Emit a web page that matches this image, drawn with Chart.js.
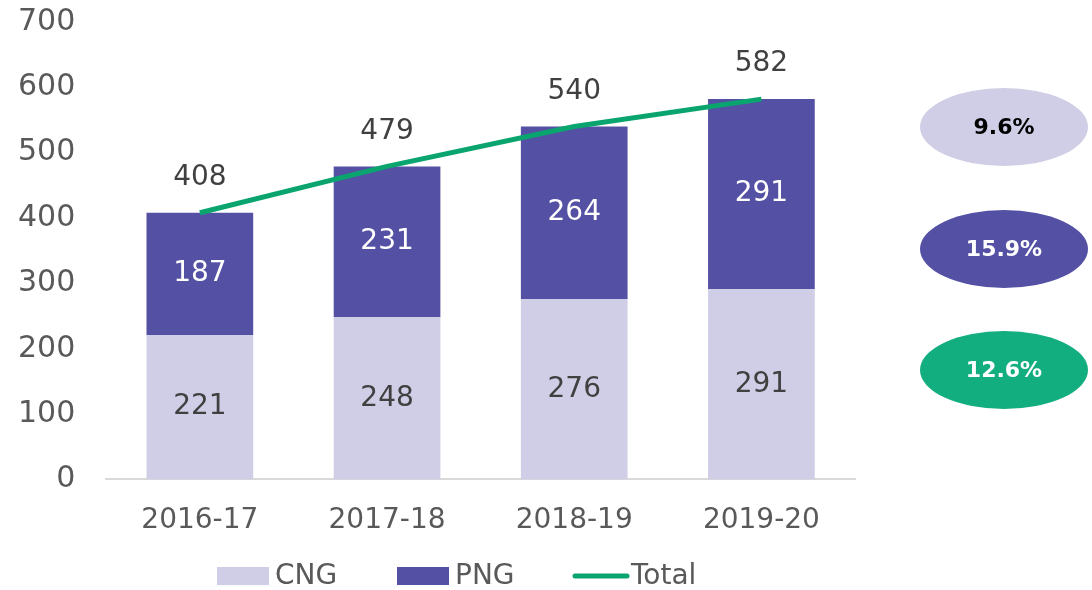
<!DOCTYPE html>
<html>
<head>
<meta charset="utf-8">
<script src="https://cdn.jsdelivr.net/npm/chart.js@4/dist/chart.umd.min.js"></script>
<style>
  html, body { margin: 0; padding: 0; background: #fff; }
  #wrap { width: 1092px; height: 590px; }
</style>
</head>
<body>
<div id="wrap"><canvas id="chart"></canvas></div>
<script>
const years = ['2016-17', '2017-18', '2018-19', '2019-20'];
const cng = [221, 248, 276, 291];
const png = [187, 231, 264, 291];
const total = [408, 479, 540, 582];
const yTicks = [0, 100, 200, 300, 400, 500, 600, 700];

// CAGR bubbles on the right: text, fill, text colour
const cagrText = ['9.6%', '15.9%', '12.6%'];
const cagrFill = ['#d0cee6', '#5450a4', '#13ae7f'];
const cagrInk = ['#000000', '#ffffff', '#ffffff'];

const FONT = '"DejaVu Sans", sans-serif';

// value labels on bars and above the total line
const labelsPlugin = {
    id: 'valueLabels',
    afterDatasetsDraw(chart) {
        const ctx = chart.ctx;
        ctx.save();
        ctx.font = '28px ' + FONT;
        ctx.textAlign = 'center';
        ctx.textBaseline = 'middle';
        chart.data.datasets.forEach((ds, i) => {
            const meta = chart.getDatasetMeta(i);
            meta.data.forEach((el, j) => {
                if (ds.type === 'line') {
                    ctx.fillStyle = '#404040';
                    ctx.fillText(ds.data[j], el.x, el.y - 35);
                } else {
                    ctx.fillStyle = ds.labelColor;
                    ctx.fillText(ds.data[j], el.x, (el.y + el.base) / 2);
                }
            });
        });
        ctx.restore();
    }
};

// ellipses with growth rates + legend row
const extrasPlugin = {
    id: 'extras',
    afterDraw(chart) {
        const ctx = chart.ctx;
        const cx = 1004;
        const ys = [127, 249, 370];
        ctx.save();
        ctx.textAlign = 'center';
        ctx.textBaseline = 'middle';
        ctx.font = 'bold 22px ' + FONT;
        cagrText.forEach((t, i) => {
            ctx.beginPath();
            ctx.ellipse(cx, ys[i], 84, 39, 0, 0, Math.PI * 2);
            ctx.fillStyle = cagrFill[i];
            ctx.fill();
            ctx.fillStyle = cagrInk[i];
            ctx.fillText(t, cx, ys[i] + 1);
        });

        // legend: CNG, PNG, Total
        const ly = 576;
        const order = ['CNG', 'PNG', 'Total'];
        const starts = [217, 397, 573];
        ctx.font = '28px ' + FONT;
        ctx.textAlign = 'left';
        order.forEach((name, k) => {
            const ds = chart.data.datasets.find(d => d.label === name);
            const x = starts[k];
            if (ds.type === 'line') {
                ctx.strokeStyle = ds.borderColor;
                ctx.lineWidth = 5;
                ctx.lineCap = 'round';
                ctx.beginPath();
                ctx.moveTo(x + 2, ly);
                ctx.lineTo(x + 54, ly);
                ctx.stroke();
            } else {
                ctx.fillStyle = ds.backgroundColor;
                ctx.fillRect(x, ly - 9, 52, 18);
            }
            ctx.fillStyle = '#595959';
            ctx.fillText(name, x + 58, ly + 1);
        });
        ctx.restore();
    }
};

new Chart(document.getElementById('chart'), {
    data: {
        labels: years,
        datasets: [
            {
                type: 'bar',
                label: 'CNG',
                data: cng,
                backgroundColor: '#d0cee6',
                borderWidth: 0,
                labelColor: '#404040',
                stack: 'bars',
                order: 1
            },
            {
                type: 'bar',
                label: 'PNG',
                data: png,
                backgroundColor: '#5450a4',
                borderWidth: 0,
                labelColor: '#ffffff',
                stack: 'bars',
                order: 2
            },
            {
                type: 'line',
                label: 'Total',
                data: total,
                borderColor: '#0aa56f',
                backgroundColor: '#0aa56f',
                borderWidth: 5,
                pointRadius: 0,
                stack: 'line',
                order: 0
            }
        ]
    },
    options: {
        responsive: true,
        maintainAspectRatio: false,
        animation: false,
        layout: { padding: { left: 14, right: 237, top: 0, bottom: 35 } },
        datasets: { bar: { barPercentage: 0.57, categoryPercentage: 1 } },
        scales: {
            x: {
                stacked: true,
                grid: { display: false },
                border: { display: true, color: '#d9d9d9', width: 2 },
                ticks: { color: '#595959', font: { family: FONT, size: 28 }, padding: 17 }
            },
            y: {
                stacked: true,
                min: 0,
                max: 700,
                afterBuildTicks: axis => { axis.ticks = yTicks.map(v => ({ value: v })); },
                grid: { display: false, drawTicks: true, tickLength: 27 },
                border: { display: false },
                ticks: { color: '#595959', font: { family: FONT, size: 30 }, padding: 4 }
            }
        },
        plugins: {
            tooltip: { enabled: false },
            legend: { display: false }
        }
    },
    plugins: [labelsPlugin, extrasPlugin]
});
</script>
</body>
</html>
